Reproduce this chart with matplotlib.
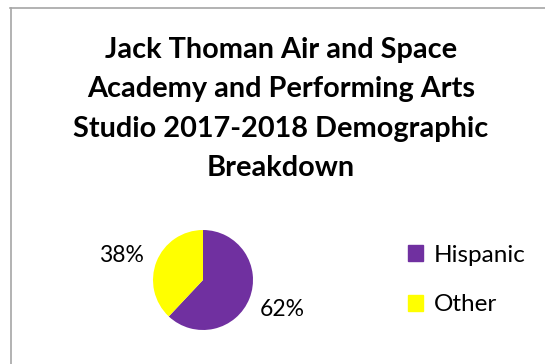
import matplotlib
matplotlib.use("Agg")
import matplotlib.pyplot as plt
from matplotlib.lines import Line2D
from matplotlib.transforms import offset_copy

title = "Jack Thoman Air and Space\nAcademy and Performing Arts\nStudio 2017-2018 Demographic\nBreakdown"
categories = ["Hispanic", "Other"]
values = [62, 38]
colors = ["#7030A0", "#FFFF00"]

W, H = 545, 364
fig = plt.figure(figsize=(W / 100, H / 100), dpi=100)
fig.patch.set_facecolor("white")
plt.rcParams["font.family"] = ["Lato", "DejaVu Sans"]

# frame lines (top and left)
fig.add_artist(Line2D([10 / W, 1], [1 - 8 / H, 1 - 8 / H], color="#A6A6A6", lw=1.2))
fig.add_artist(Line2D([10.5 / W, 10.5 / W], [0, 1 - 8 / H], color="#A6A6A6", lw=1.2))

fig.text(281 / W, 1 - 109 / H, title, ha="center", va="center",
         fontsize=20.8, fontweight="bold", linespacing=1.62, color="black")

cx, cy, r = 203, 280, 50
ax = fig.add_axes([(cx - r) / W, 1 - (cy + r) / H, 2 * r / W, 2 * r / H])
wedges, texts, autotexts = ax.pie(values, colors=colors, startangle=90, counterclock=False,
                                  autopct=lambda p: f"{p:.0f}%", pctdistance=1.7,
                                  textprops=dict(fontsize=16.5, color="#000000"),
                                  wedgeprops=dict(linewidth=0))
ax.set_xlim(-1, 1)
ax.set_ylim(-1, 1)
ax.set_aspect("equal")
# small nudges of the percentage labels (points)
autotexts[0].set_transform(offset_copy(ax.transData, fig=fig, x=0, y=1.5, units="points"))
autotexts[1].set_transform(offset_copy(ax.transData, fig=fig, x=-2, y=-5, units="points"))

handles = [plt.Rectangle((0, 0), 1, 1, color=c) for c in colors]
fig.legend(handles, categories, loc="center left", bbox_to_anchor=(386 / W, 1 - 280 / H),
           frameon=False, fontsize=17.5, handlelength=0.62, handleheight=0.62,
           handletextpad=0.45, labelspacing=1.17)

fig.savefig("out.png", dpi=100)
